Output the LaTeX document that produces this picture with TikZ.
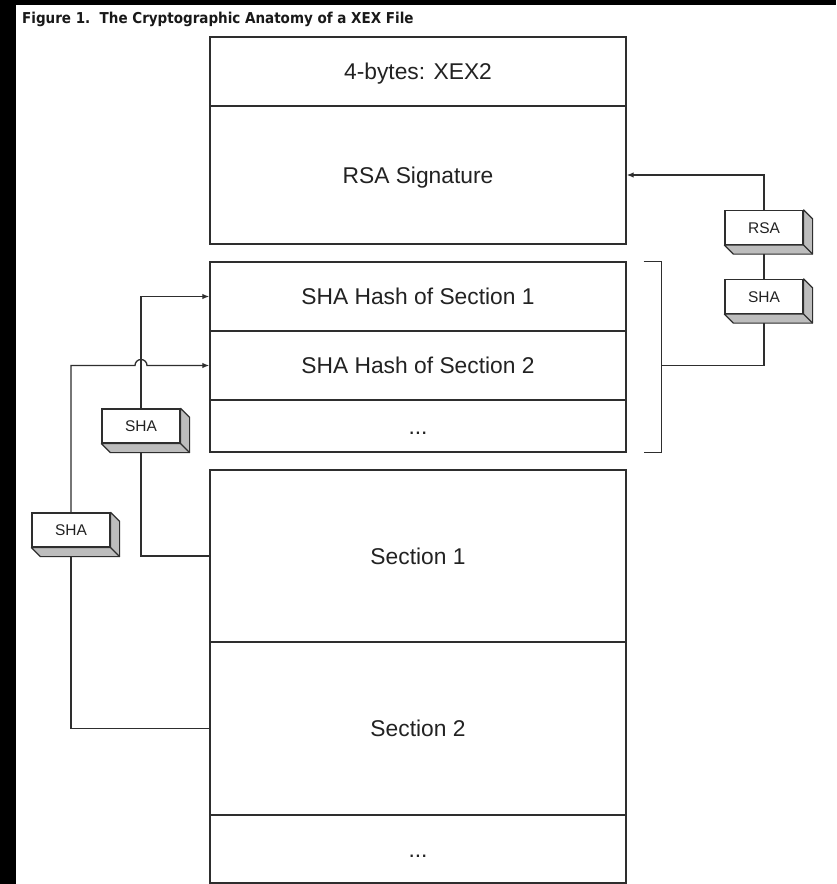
\documentclass[tikz,border=0pt]{standalone}
\usepackage{fontspec}
\setmainfont{Liberation Sans}
\newfontfamily\titlefont{DejaVu Sans Condensed}
\usetikzlibrary{arrows.meta}
\definecolor{edge}{HTML}{2E2E2E}
\definecolor{ink}{HTML}{222222}
\definecolor{side}{HTML}{BDBDBD}
\tikzset{
  row/.style={draw=edge, line width=1.4pt, fill=white, minimum width=416pt,
    inner sep=0pt, text=ink, font=\fontsize{22.8pt}{26pt}\selectfont,
    text height=16.3pt, text depth=0pt},
  cryptobox/.style={draw=edge, line width=1.2pt, fill=white, minimum width=78pt,
    minimum height=34pt, inner sep=0pt, text=ink, font=\fontsize{15.5pt}{18pt}\selectfont,
    text height=11pt, text depth=0pt},
  link/.style={draw=edge, line width=1.3pt},
  arrowlink/.style={link, -{Latex[length=7pt,width=5.5pt]}},
}
% extruded right and bottom faces of a 3D box
\newcommand{\extrude}[1]{%
  \filldraw[fill=side, draw=edge, line width=1.2pt, line join=round]
    (#1.north east) -- ([shift={(9,9)}]#1.north east) -- ([shift={(9,9)}]#1.south east)
    -- ([shift={(9,9)}]#1.south west) -- (#1.south west) -- (#1.south east) -- cycle;
  \draw[edge, line width=1.2pt] (#1.south east) -- ([shift={(9,9)}]#1.south east);
}
\begin{document}
\begin{tikzpicture}[x=1pt,y=-1pt]
\useasboundingbox (0,0) rectangle (836,884);
\fill[white] (0,0) rectangle (836,884);
% black frame bands
\fill[black] (0,0) rectangle (836,5);
\fill[black] (0,0) rectangle (16,884);

% caption
\node[anchor=base west, inner sep=0pt, font=\titlefont\bfseries\fontsize{15pt}{17pt}\selectfont, text=black!90]
  (title) at (22,23) {Figure 1.\ \ The Cryptographic Anatomy of a XEX File};

% file layout column
\node[row, minimum height=69pt]  (magic)    at (418,71.5)  {4-bytes: XEX2};
\node[row, minimum height=138pt] (rsasig)   at (418,175)   {RSA Signature};
\node[row, minimum height=69pt]  (hash1)    at (418,296.5) {SHA Hash of Section 1};
\node[row, minimum height=69pt]  (hash2)    at (418,365.5) {SHA Hash of Section 2};
\node[row, minimum height=52pt]  (hashmore) at (418,426)   {...};
\node[row, minimum height=172pt] (sec1)     at (418,556)   {Section 1};
\node[row, minimum height=173pt] (sec2)     at (418,728.5) {Section 2};
\node[row, minimum height=68pt]  (secmore)  at (418,849)   {...};

% crypto operations
\node[cryptobox] (rsaop)  at (764,227.5) {RSA};
\node[cryptobox] (shaR)   at (764,296.5) {SHA};
\node[cryptobox] (shaI)   at (141,426)   {SHA};
\node[cryptobox] (shaO)   at (71,530)    {SHA};

% bracket over the hash table
\draw[link] ([xshift=17]hash1.north east) -- ([xshift=35]hash1.north east)
  -- ([xshift=35]hashmore.south east) -- ([xshift=17]hashmore.south east);
\coordinate (brk) at ([xshift=35]hash2.east);

% hash table -> SHA -> RSA -> signature
\draw[link] (brk) -| (shaR.south);
\draw[link] (shaR.north) -- (rsaop.south);
\draw[arrowlink] (rsaop.north) |- (rsasig.east);

% section 1 -> SHA -> hash 1
\draw[link] (sec1.west) -| (shaI.south);
\draw[arrowlink] (shaI.north) |- (hash1.west);

% section 2 -> SHA -> hash 2, hopping over the other line
\draw[link] (sec2.west) -| (shaO.south);
\draw[arrowlink] (shaO.north) |- (135,365.5)
  arc[start angle=180, end angle=0, radius=6pt] -- (hash2.west);

% 3D sides of the operation boxes
\extrude{rsaop}
\extrude{shaR}
\extrude{shaI}
\extrude{shaO}
\end{tikzpicture}
\end{document}
